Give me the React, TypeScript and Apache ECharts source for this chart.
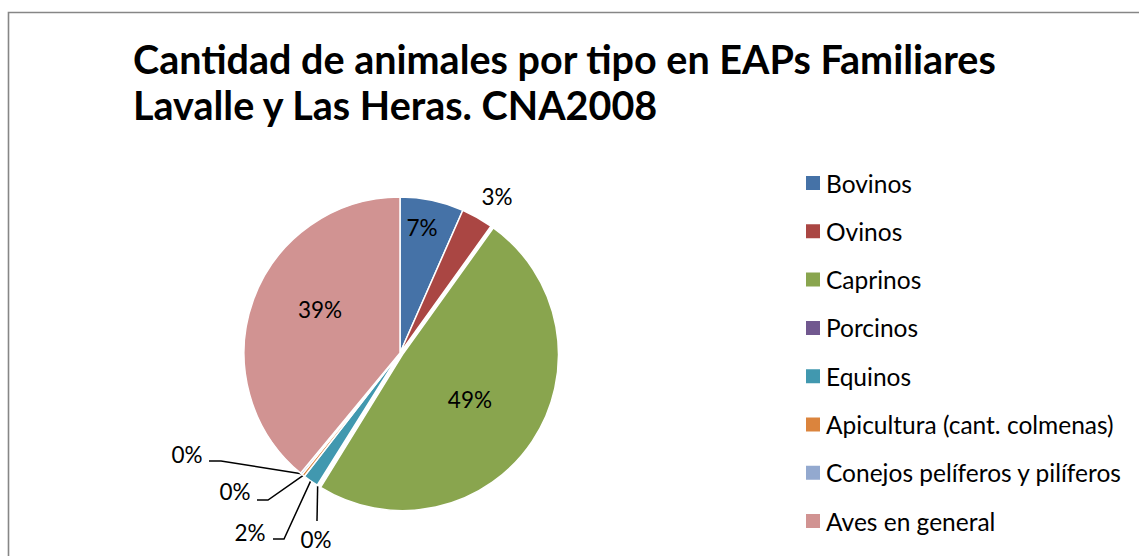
import React, { useEffect, useRef } from "react";
import * as echarts from "echarts";

const titleText = "Cantidad de animales por tipo en EAPs Familiares\nLavalle y Las Heras. CNA2008";
const categories = [
  "Bovinos",
  "Ovinos",
  "Caprinos",
  "Porcinos",
  "Equinos",
  "Apicultura (cant. colmenas)",
  "Conejos pelíferos y pilíferos",
  "Aves en general",
];
// share of animals (%)
const values = [6.6, 3.3, 48.9, 0.1, 1.6, 0.3, 0.2, 39.0];
const colors = ["#4572A7", "#AA4643", "#89A54E", "#71588F", "#4198AF", "#DB843D", "#93A9CF", "#D19392"];
const insideLabel = [true, false, true, false, false, false, false, true];

// label placement (layout only)
const labelSpots: Record<number, { x: number; y: number; bend?: [number, number]; end?: [number, number] }> = {
  0: { x: 422, y: 227 },
  1: { x: 497, y: 196 },
  2: { x: 496, y: 422 },
  3: { x: 316, y: 539, bend: [317, 521], end: [317, 521] },
  4: { x: 250, y: 532, bend: [284, 539], end: [273, 539] },
  5: { x: 235, y: 491, bend: [268, 500], end: [257, 500] },
  6: { x: 187, y: 454, bend: [221, 461], end: [209, 461] },
  7: { x: 320, y: 309 },
};

const FONT = "Lato";

export default function App() {
  const ref = useRef<HTMLDivElement>(null);
  useEffect(() => {
    if (!ref.current) return;
    const chart = echarts.init(ref.current, null, { renderer: "svg" });
    const data = categories.map((name, i) => ({
      name,
      value: values[i],
      selected: i === 2,
      itemStyle: { color: colors[i] },
      label: { position: insideLabel[i] ? "inside" : "outside" },
      labelLine: { show: !insideLabel[i] && i !== 1 },
    }));
    chart.setOption({
      animation: false,
      backgroundColor: "#ffffff",
      title: {
        text: titleText,
        left: 133,
        top: 35,
        padding: 0,
        textStyle: {
          fontFamily: FONT,
          fontWeight: "bold",
          fontSize: 39.5,
          lineHeight: 46,
          color: "#000000",
        },
      },
      legend: {
        orient: "vertical",
        left: 804,
        top: 170.5,
        padding: 0,
        itemWidth: 16,
        itemHeight: 16,
        itemGap: 23.3,
        icon: "rect",
        selectedMode: false,
        data: categories,
        textStyle: { fontFamily: FONT, fontSize: 24.5, color: "#000000" },
      },
      graphic: [
        {
          type: "rect",
          shape: { x: 8.5, y: 12.5, width: 1140, height: 560 },
          style: { fill: "none", stroke: "#868686", lineWidth: 1.6 },
          silent: true,
        },
      ],
      series: [
        {
          type: "pie",
          center: [400, 353],
          radius: 156,
          startAngle: 90,
          clockwise: true,
          avoidLabelOverlap: false,
          selectedMode: "single",
          selectedOffset: 3,
          itemStyle: { borderColor: "#ffffff", borderWidth: 1.5 },
          emphasis: { disabled: true },
          label: {
            fontFamily: FONT,
            fontSize: 22.5,
            color: "#000000",
            formatter: (p: any) => Math.round(p.percent) + "%",
          },
          labelLine: { lineStyle: { color: "#000000", width: 1.5 }, length: 10, length2: 10 },
          labelLayout: (params: any) => {
            const s = labelSpots[params.dataIndex];
            if (!s) return {};
            const out: any = { x: s.x, y: s.y, align: "center", verticalAlign: "middle" };
            if (s.bend && params.labelLinePoints && params.labelLinePoints.length) {
              const a = params.labelLinePoints[0];
              out.labelLinePoints = [[a[0], a[1]], s.bend, s.end];
            }
            return out;
          },
          data,
        },
      ],
    });
    return () => chart.dispose();
  }, []);
  return (
    <div
      ref={ref}
      style={{ position: "fixed", left: 0, top: 0, width: 1139, height: 556, background: "#fff" }}
    />
  );
}
